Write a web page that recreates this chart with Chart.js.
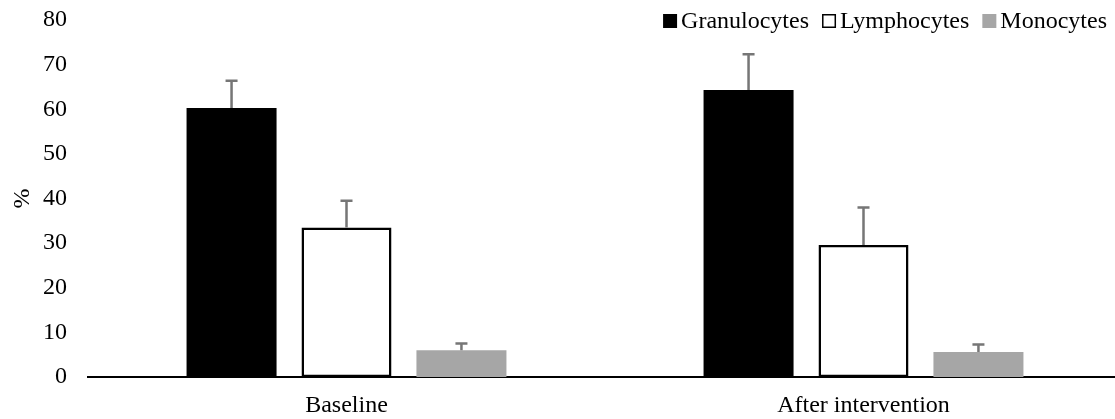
<!DOCTYPE html>
<html>
<head>
<meta charset="utf-8">
<script src="https://cdn.jsdelivr.net/npm/chart.js@4.4.0/dist/chart.umd.min.js"></script>
<style>
  html, body { margin: 0; padding: 0; background: #fff; overflow: hidden; }
</style>
</head>
<body>
<canvas id="chartCells" width="1122" height="419"></canvas>
<script>
const categories = ["Baseline", "After intervention"];
const seriesNames = ["Granulocytes", "Lymphocytes", "Monocytes"];
const granulocytes = [60.3, 64.3];
const lymphocytes = [33.5, 29.6];
const monocytes = [6.0, 5.6];
const granulocytesErr = [6.1, 8.0];
const lymphocytesErr = [6.0, 8.4];
const monocytesErr = [1.5, 1.7];
const yTicks = [0, 10, 20, 30, 40, 50, 60, 70, 80];

const serif = "'Liberation Serif', 'Times New Roman', serif";
const fontSize = 24;

// error bars, upward only
const errorBars = {
  id: "errorBars",
  afterDatasetsDraw(chart) {
    const ctx = chart.ctx;
    const yScale = chart.scales.y;
    ctx.save();
    ctx.strokeStyle = "#767676";
    ctx.lineWidth = 2.5;
    chart.data.datasets.forEach((ds, di) => {
      const meta = chart.getDatasetMeta(di);
      meta.data.forEach((bar, i) => {
        const yTop = yScale.getPixelForValue(ds.data[i] + ds.errors[i]);
        ctx.beginPath();
        ctx.moveTo(bar.x, bar.y);
        ctx.lineTo(bar.x, yTop);
        ctx.moveTo(bar.x - 6, yTop);
        ctx.lineTo(bar.x + 6, yTop);
        ctx.stroke();
      });
    });
    ctx.restore();
  },
};

// legend in the top right corner, like the original
const cornerLegend = {
  id: "cornerLegend",
  afterDraw(chart) {
    const ctx = chart.ctx;
    ctx.save();
    ctx.font = fontSize + "px " + serif;
    ctx.textBaseline = "middle";
    const box = 14, gap = 4, itemGap = 13;
    let x = 1107;
    const yMid = 21;
    for (let di = chart.data.datasets.length - 1; di >= 0; di--) {
      const ds = chart.data.datasets[di];
      const w = ctx.measureText(ds.label).width;
      x -= w;
      ctx.fillStyle = "#000";
      ctx.fillText(ds.label, x, yMid + 1);
      x -= gap + box;
      ctx.fillStyle = ds.backgroundColor;
      ctx.fillRect(x, yMid - box / 2, box, box);
      if (ds.borderWidth) {
        ctx.strokeStyle = "#000";
        ctx.lineWidth = 1.5;
        ctx.strokeRect(x + 0.75, yMid - box / 2 + 0.75, box - 1.5, box - 1.5);
      }
      x -= itemGap;
    }
    ctx.restore();
  },
};

const data = {
  labels: categories,
  datasets: [
    {
      label: seriesNames[0],
      data: granulocytes,
      errors: granulocytesErr,
      backgroundColor: "#000000",
      borderWidth: 0,
    },
    {
      label: seriesNames[1],
      data: lymphocytes,
      errors: lymphocytesErr,
      backgroundColor: "#ffffff",
      borderColor: "#000000",
      borderWidth: 2.5,
      borderSkipped: false,
    },
    {
      label: seriesNames[2],
      data: monocytes,
      errors: monocytesErr,
      backgroundColor: "#a6a6a6",
      borderWidth: 0,
    },
  ],
};

const config = {
  type: "bar",
  data,
  options: {
    responsive: false,
    animation: false,
    layout: { autoPadding: false, padding: { left: 6, top: 20, right: 0, bottom: 0 } },
    categoryPercentage: 0.667,
    barPercentage: 0.783,
    plugins: {
      legend: { display: false },
      tooltip: { enabled: false },
    },
    scales: {
      x: {
        z: 1,
        afterFit: (scale) => {
          scale.height = 42;
          scale.paddingLeft = 0;
          scale.paddingRight = 0;
        },
        grid: { display: false, drawTicks: false },
        border: { display: true, color: "#000", width: 2 },
        ticks: {
          color: "#000",
          padding: 14,
          font: { family: serif, size: fontSize },
        },
      },
      y: {
        min: 0,
        max: 80,
        afterFit: (scale) => {
          scale.width = 82;
          scale.paddingTop = 0;
          scale.paddingBottom = 0;
        },
        afterBuildTicks: (axis) => {
          axis.ticks = yTicks.map((v) => ({ value: v }));
        },
        grid: { display: false, drawTicks: false },
        border: { display: false },
        ticks: {
          color: "#000",
          padding: 21,
          font: { family: serif, size: fontSize },
        },
        title: {
          display: true,
          text: "%",
          color: "#000",
          padding: { top: 2, bottom: 8 },
          font: { family: serif, size: fontSize },
        },
      },
    },
  },
  plugins: [errorBars, cornerLegend],
};

const chartCells = new Chart(document.getElementById("chartCells"), config);
</script>
</body>
</html>
